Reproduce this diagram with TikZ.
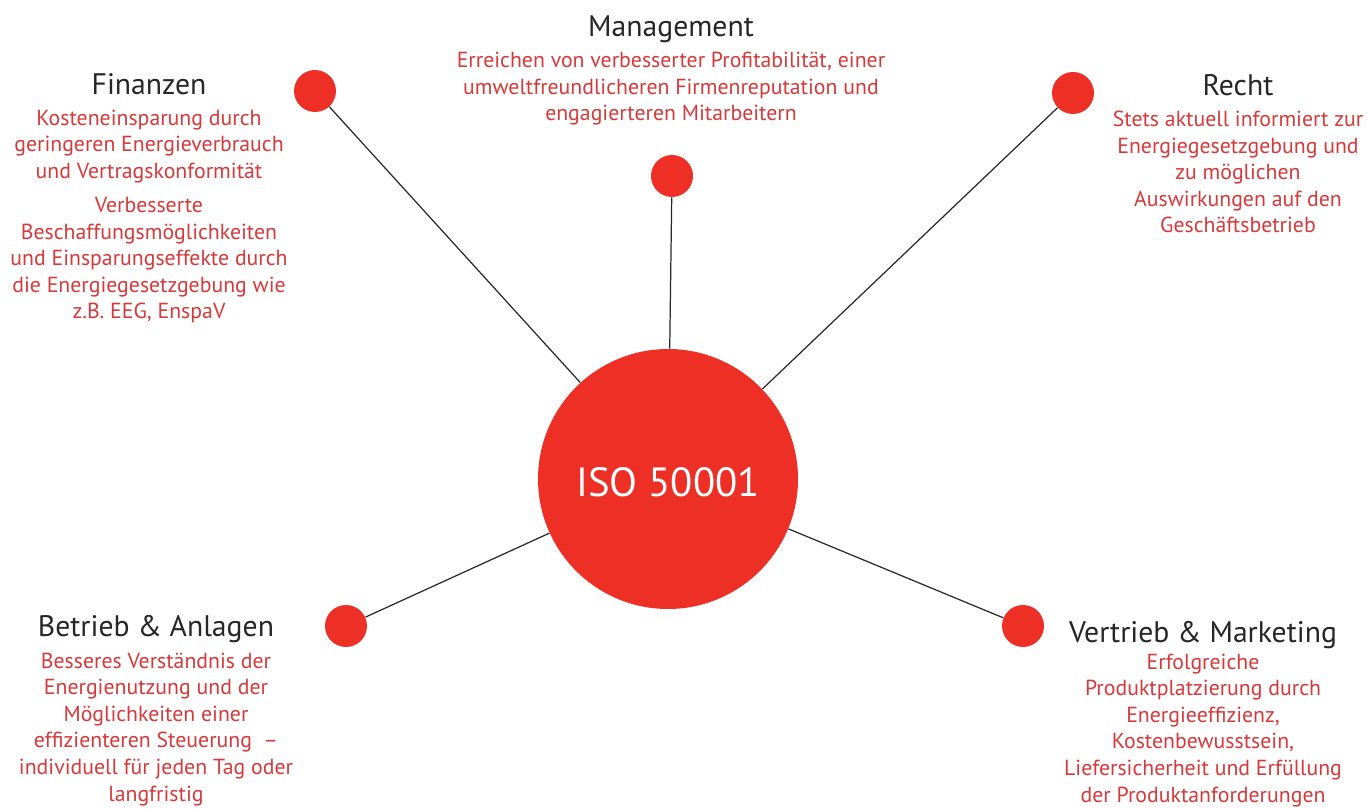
\documentclass[tikz,border=0pt]{standalone}
\usepackage{fontspec}
\setmainfont{PT Sans}
\usepackage{xcolor}
\usepackage{tikz}
\usetikzlibrary{positioning}
\definecolor{isored}{RGB}{238, 47, 37}
\definecolor{textred}{RGB}{214, 57, 58}
\definecolor{titlegray}{RGB}{38, 38, 38}
\definecolor{linegray}{RGB}{40, 40, 40}

\begin{document}
\begin{tikzpicture}[
    hub/.style={circle, fill=isored, minimum size=5.2cm, inner sep=0pt, text=white, text height=0.72cm, text depth=0pt, font=\fontsize{23.2}{26}\selectfont},
    dot/.style={circle, fill=isored, minimum size=0.84cm, inner sep=0pt},
    title/.style={anchor=base, text=titlegray, font=\fontsize{16.9}{20}\selectfont, inner sep=0pt},
    info/.style={anchor=base, text=textred, align=center, font=\fontsize{12.4}{15.1}\selectfont, inner sep=0pt},
    link/.style={draw=linegray, line width=0.7pt}
]
    \useasboundingbox (0, 0) rectangle (27.34, 16.16);

    % Centre
    \node[hub] (iso) at (13.36, 6.58) {ISO 50001};

    % Dots around the centre
    \node[dot] (findot) at (6.30, 14.34) {};
    \node[dot] (mgmtdot) at (13.44, 12.64) {};
    \node[dot] (rechtdot) at (21.46, 14.30) {};
    \node[dot] (betriebdot) at (6.92, 3.64) {};
    \node[dot] (vertriebdot) at (20.46, 3.64) {};

    % Spokes
    \draw[link] (findot) -- (iso);
    \draw[link] (mgmtdot) -- (iso);
    \draw[link] (rechtdot) -- (iso);
    \draw[link] (betriebdot) -- (iso);
    \draw[link] (vertriebdot) -- (iso);

    % Finanzen (info nodes sit on the baseline of their last line)
    \node[title] (fintitle) at (2.98, 14.26) {Finanzen};
    \node[info] (fintext) at (2.98, 9.78) {Kosteneinsparung durch\\geringeren Energieverbrauch\\und Vertragskonformität\\[4.5pt]Verbesserte\\Beschaffungsmöglichkeiten\\und Einsparungseffekte durch\\die Energiegesetzgebung wie\\z.B. EEG, EnspaV};

    % Management
    \node[title] (mgmttitle) at (13.42, 15.42) {Management};
    \node[info] (mgmttext) at (13.42, 13.74) {Erreichen von verbesserter Profitabilität, einer\\umweltfreundlicheren Firmenreputation und\\engagierteren Mitarbeitern};

    % Recht
    \node[title] (rechttitle) at (24.76, 14.24) {Recht};
    \node[info] (rechttext) at (24.76, 11.50) {Stets aktuell informiert zur\\Energiegesetzgebung und\\zu möglichen\\Auswirkungen auf den\\Geschäftsbetrieb};

    % Betrieb & Anlagen
    \node[title] (betriebtitle) at (3.12, 3.44) {Betrieb \& Anlagen};
    \node[info] (betriebtext) at (3.12, 0.14) {Besseres Verständnis der\\Energienutzung und der\\Möglichkeiten einer\\effizienteren Steuerung~ --\\individuell für jeden Tag oder\\langfristig};

    % Vertrieb & Marketing
    \node[title] (vertriebtitle) at (24.06, 3.32) {Vertrieb \& Marketing};
    \node[info] (vertriebtext) at (24.06, 0.12) {Erfolgreiche\\Produktplatzierung durch\\Energieeffizienz,\\Kostenbewusstsein,\\Liefersicherheit und Erfüllung\\der Produktanforderungen};

\end{tikzpicture}
\end{document}
